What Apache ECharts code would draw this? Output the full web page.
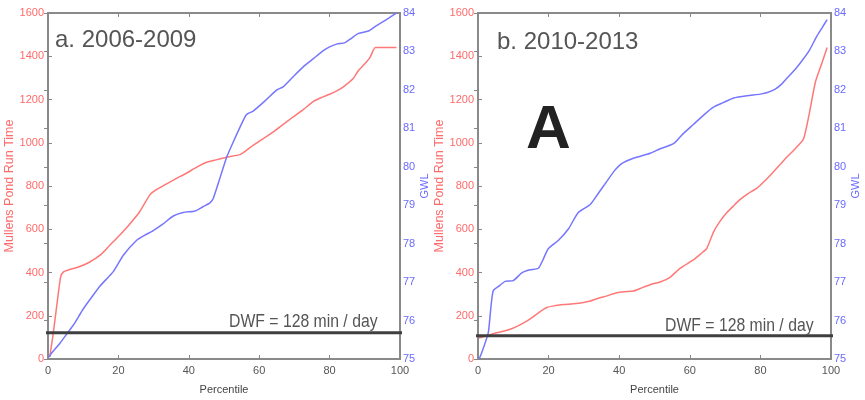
<!DOCTYPE html>
<html>
<head>
<meta charset="utf-8">
<script src="https://cdn.jsdelivr.net/npm/echarts@6/dist/echarts.min.js"></script>
<style>
html,body{margin:0;padding:0;background:#fff;}
#chart{width:865px;height:400px;}
</style>
</head>
<body>
<div id="chart"></div>
<script>
// ---------- Data ----------
const xTicks = [0, 20, 40, 60, 80, 100];
const runTicks = [0, 200, 400, 600, 800, 1000, 1200, 1400, 1600];
const gwlTicks = [75, 76, 77, 78, 79, 80, 81, 82, 83, 84];

// Panel a. 2006-2009 : Mullens Pond Run Time (red)
const aRunPct = [0.5, 1.5, 2.9, 3.6, 4.4, 6, 7.5, 9, 11.5, 14.8, 17.5, 20.5, 23, 26, 29, 31, 33.7, 36.5, 39.4, 42, 45, 48, 51, 54.5, 56, 58, 61, 64, 66.8, 69.5, 72.5, 75.4, 77.5, 80, 82, 84, 86.7, 88.2, 90, 91.5, 93, 96, 99];
const aRun    = [10, 120, 300, 380, 403, 413, 420, 428, 445, 480, 525, 575, 620, 680, 760, 785, 810, 835, 860, 885, 910, 922, 934, 945, 960, 985, 1017, 1050, 1085, 1118, 1153, 1191, 1208, 1224, 1240, 1260, 1297, 1334, 1365, 1395, 1440, 1440, 1440];
// Panel a. 2006-2009 : GWL (blue)
const aGwlPct = [0.3, 1, 3.4, 5.8, 7.2, 10, 12.5, 14.8, 18.6, 21.4, 25.2, 27.5, 29.9, 32.5, 35.6, 38.4, 41.8, 44, 46, 47, 49, 50.8, 52.5, 54.5, 56.4, 58.3, 61.5, 65, 66.8, 69.5, 72.5, 75.5, 78.2, 80, 82, 84.4, 86, 88.2, 91, 93, 95.3, 97, 99];
const aGwl    = [75.05, 75.15, 75.41, 75.71, 75.88, 76.3, 76.62, 76.9, 77.28, 77.7, 78.09, 78.22, 78.34, 78.5, 78.72, 78.81, 78.85, 78.96, 79.06, 79.19, 79.75, 80.26, 80.62, 81.02, 81.36, 81.45, 81.7, 82.0, 82.08, 82.33, 82.6, 82.82, 83.02, 83.12, 83.19, 83.23, 83.33, 83.47, 83.53, 83.65, 83.78, 83.88, 84.0];

// Panel b. 2010-2013 : Mullens Pond Run Time (red)
const bRunPct = [0.3, 3, 5, 7.2, 9.5, 11.9, 13.8, 15.7, 17.5, 19.5, 22, 24.2, 27, 29.9, 31.8, 33.7, 36.5, 39.3, 41.5, 44, 46.5, 49.6, 51.6, 54.4, 57.3, 61, 63, 64.8, 66.7, 68.5, 70.5, 72.5, 74.3, 76.5, 79, 81.5, 83.7, 85.5, 87.5, 90, 92.2, 93.7, 95.6, 97.5, 98.9];
const bRun    = [97, 110, 120, 128, 140, 158, 175, 196, 218, 238, 247, 252, 255, 261, 268, 279, 292, 306, 311, 314, 330, 348, 356, 378, 420, 458, 485, 511, 587, 635, 677, 710, 738, 765, 790, 828, 866, 898, 934, 975, 1017, 1123, 1282, 1372, 1440];
// Panel b. 2010-2013 : GWL (blue)
const bGwlPct = [0.3, 1, 2.9, 3.5, 4.3, 6, 7.7, 10, 12.4, 14.7, 17.1, 18.5, 19.9, 22.8, 25.6, 28.4, 31.8, 34, 36.5, 38.5, 40.7, 44, 48.8, 51.6, 55.4, 58, 61, 64, 66.7, 69.5, 72.4, 76.2, 80, 82, 84.2, 86, 87.5, 90, 92.2, 94, 96, 97.5, 98.9];
const bGwl    = [75.0, 75.15, 75.68, 76.2, 76.77, 76.9, 77.02, 77.04, 77.24, 77.32, 77.36, 77.6, 77.87, 78.09, 78.38, 78.81, 79.02, 79.3, 79.62, 79.88, 80.08, 80.22, 80.35, 80.47, 80.6, 80.85, 81.1, 81.35, 81.55, 81.67, 81.79, 81.85, 81.89, 81.93, 82.02, 82.15, 82.3, 82.55, 82.81, 83.05, 83.4, 83.62, 83.83];

// DWF reference line (run-time axis value as drawn) and its percentile extent
const dwfA = 121, dwfB = 107;
const dwfSpanA = [-1.4, 102.6], dwfSpanB = [-1.8, 102.1];
const panelTitles = ['a. 2006-2009', 'b. 2010-2013'];
const dwfLabel = 'DWF = 128 min / day';

// ---------- Chart ----------
const zip = (xs, ys) => xs.map((x, i) => [x, ys[i]]);
const FONT = "'Liberation Sans', Arial, sans-serif";
const RED = '#ff7878', BLUE = '#7676ff';
const RED_T = '#ff6a6a', BLUE_T = '#6a6aff';
const plain = v => String(v);

const grids = [
  {left: 48, top: 13, width: 352, height: 353},
  {left: 478, top: 13, width: 353, height: 354}
];

function xAxes(gi) {
  return [
    {type: 'value', gridIndex: gi, position: 'bottom', min: xTicks[0], max: xTicks[xTicks.length-1], interval: 20,
     axisLine: {show: false}, splitLine: {show: false},
     axisTick: {inside: true, length: 4, lineStyle: {color: '#888'}},
     axisLabel: {color: '#555', fontSize: 11, fontFamily: FONT, margin: 6, formatter: plain},
     name: 'Percentile', nameLocation: 'middle', nameGap: 25,
     nameTextStyle: {color: '#444', fontSize: 11, fontFamily: FONT}},
    {type: 'value', gridIndex: gi, position: 'top', min: xTicks[0], max: xTicks[xTicks.length-1], interval: 20,
     axisLine: {show: false}, splitLine: {show: false},
     axisTick: {inside: true, length: 4, lineStyle: {color: '#888'}},
     axisLabel: {show: false}}
  ];
}
function yAxes(gi) {
  return [
    {type: 'value', gridIndex: gi, position: 'left', min: runTicks[0], max: runTicks[runTicks.length-1], interval: 200,
     axisLine: {show: false}, splitLine: {show: false},
     axisTick: {show: true, inside: true, length: 4, lineStyle: {color: '#888'}},
     axisLabel: {color: RED_T, fontSize: 11, fontFamily: FONT, margin: 4, formatter: plain},
     name: 'Mullens Pond Run Time', nameLocation: 'middle', nameGap: 31, nameRotate: 90,
     nameTextStyle: {color: RED_T, fontSize: 12.5, fontFamily: FONT}},
    {type: 'value', gridIndex: gi, position: 'right', min: gwlTicks[0], max: gwlTicks[gwlTicks.length-1], interval: 1,
     axisLine: {show: false}, splitLine: {show: false},
     axisTick: {show: true, inside: true, length: 4, lineStyle: {color: '#888'}},
     axisLabel: {color: BLUE_T, fontSize: 11, fontFamily: FONT, margin: 3, formatter: plain},
     name: 'GWL', nameLocation: 'middle', nameGap: 18, nameRotate: 90,
     nameTextStyle: {color: BLUE_T, fontSize: 11, fontFamily: FONT}}
  ];
}

function lineSeries(xi, yi, data, color) {
  return {type: 'line', xAxisIndex: xi, yAxisIndex: yi, data: data, showSymbol: false,
          smooth: 0.2, lineStyle: {color: color, width: 1.5}, z: 3, silent: true};
}
function dwfSeries(xi, yi, span, v) {
  return {type: 'line', xAxisIndex: xi, yAxisIndex: yi, data: [[span[0], v], [span[1], v]],
          showSymbol: false, clip: false, lineStyle: {color: '#3f3f3f', width: 3}, z: 10, silent: true};
}

const option = {
  backgroundColor: '#fff',
  animation: false,
  grid: grids.map(g => Object.assign({show: true, borderColor: '#8a8a8a', borderWidth: 2, backgroundColor: 'transparent'}, g)),
  xAxis: [...xAxes(0), ...xAxes(1)],
  yAxis: [...yAxes(0), ...yAxes(1)],
  series: [
    lineSeries(0, 0, zip(aRunPct, aRun), RED),
    lineSeries(0, 1, zip(aGwlPct, aGwl), BLUE),
    dwfSeries(0, 0, dwfSpanA, dwfA),
    lineSeries(2, 2, zip(bRunPct, bRun), RED),
    lineSeries(2, 3, zip(bGwlPct, bGwl), BLUE),
    dwfSeries(2, 2, dwfSpanB, dwfB)
  ],
  graphic: [
    {type: 'text', x: 55, y: 40, style: {text: panelTitles[0], fontSize: 24, fontFamily: FONT, fill: '#555', verticalAlign: 'middle'}, z: 20},
    {type: 'text', x: 497, y: 42, style: {text: panelTitles[1], fontSize: 24, fontFamily: FONT, fill: '#555', verticalAlign: 'middle'}, z: 20},
    {type: 'text', x: 526, y: 131, style: {text: 'A', fontSize: 62, fontWeight: 'bold', fontFamily: FONT, fill: '#222', verticalAlign: 'middle'}, z: 20},
    {type: 'text', x: 229, y: 322, scaleX: 0.83, style: {text: dwfLabel, fontSize: 19, fontFamily: FONT, fill: '#555', verticalAlign: 'middle'}, z: 20},
    {type: 'text', x: 665, y: 326, scaleX: 0.83, style: {text: dwfLabel, fontSize: 19, fontFamily: FONT, fill: '#555', verticalAlign: 'middle'}, z: 20}
  ]
};

const chart = echarts.init(document.getElementById('chart'), null, {renderer: 'canvas'});
chart.setOption(option);
</script>
</body>
</html>
